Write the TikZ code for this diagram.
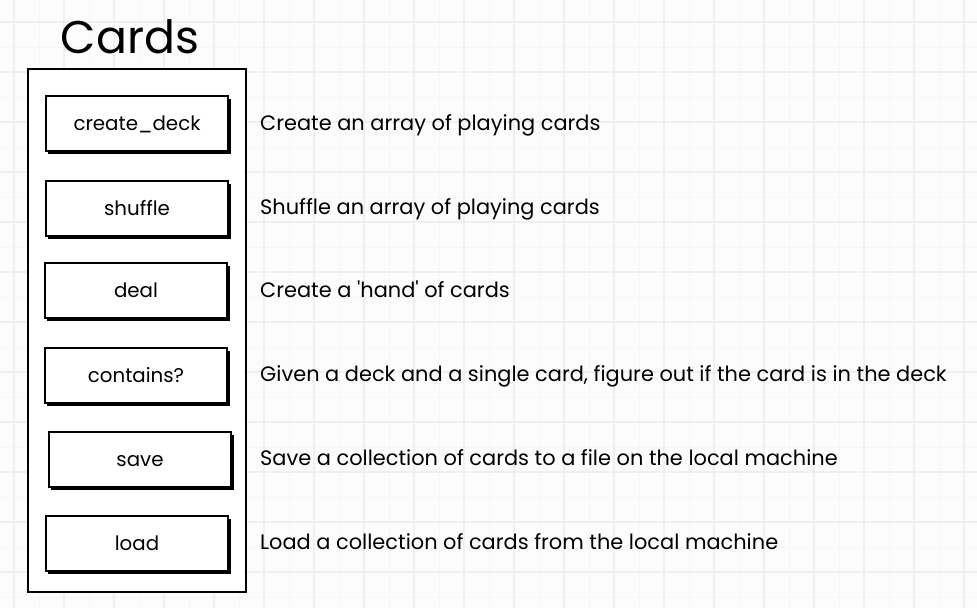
\documentclass[tikz,border=0pt]{standalone}
\usepackage{fontspec}
\setmainfont{Poppins}[Ligatures=TeXOff]
\definecolor{paper}{HTML}{FDFCFD}
\definecolor{majorgrid}{HTML}{F0EFF0}
\definecolor{minorgrid}{HTML}{F8F7F8}
% one function of the Cards module: shadowed box
\newcommand\fnbox[4]{\fill(#2+3,#3+4)rectangle(#2+186,#3+59);
  \node[fnstyle,anchor=north west](#1)at(#2,#3){#4};}

\tikzset{
  fnstyle/.style={draw,fill=white,line width=2pt,minimum width=182pt,minimum height=55pt,inner sep=0pt,
    text height=14pt,text depth=0pt,font=\fontsize{19.8}{22}\selectfont},
  descstyle/.style={anchor=base west,inner sep=0pt,font=\fontsize{20.9}{24}\selectfont},
}

\begin{document}
\begin{tikzpicture}[x=1pt,y=-1pt]
      \useasboundingbox(0,0)rectangle(977,608);
      \fill[paper](0,0)rectangle(977,608);
      \foreach \x in {39,89,...,989} \draw[minorgrid,line width=0.8pt](\x,0)--(\x,608);
      \foreach \y in {47,97,...,597} \draw[minorgrid,line width=0.8pt](0,\y)--(977,\y);
      \foreach \x in {14,64,...,964} \draw[majorgrid,line width=1.2pt](\x,0)--(\x,608);
      \foreach \y in {22,72,...,572} \draw[majorgrid,line width=1.2pt](0,\y)--(977,\y);

      \node[font=\fontsize{45.8}{50}\selectfont](title)at(130,37){Cards};
      \draw[line width=2.6pt,fill=white](28,69)rectangle(246,592);

      \fnbox{create}{45}{95}{create\_deck}
      \fnbox{shuffle}{45}{180}{shuffle}
      \fnbox{deal}{44}{262}{deal}
      \fnbox{contains}{44}{347}{contains?}
      \fnbox{save}{48}{431}{save}
      \fnbox{load}{45}{515}{load}

      \node[descstyle](dcreate)at(260,130.5){Create an array of playing cards};
      \node[descstyle](dshuffle)at(260,214.5){Shuffle an array of playing cards};
      \node[descstyle](ddeal)at(260,297.5){Create a 'hand' of cards};
      \node[descstyle](dcontains)at(260,381.5){Given a deck and a single card, figure out if the card is in the deck};
      \node[descstyle](dsave)at(260,465.5){Save a collection of cards to a file on the local machine};
      \node[descstyle](dload)at(260,549.5){Load a collection of cards from the local machine};
    \end{tikzpicture}
\end{document}
